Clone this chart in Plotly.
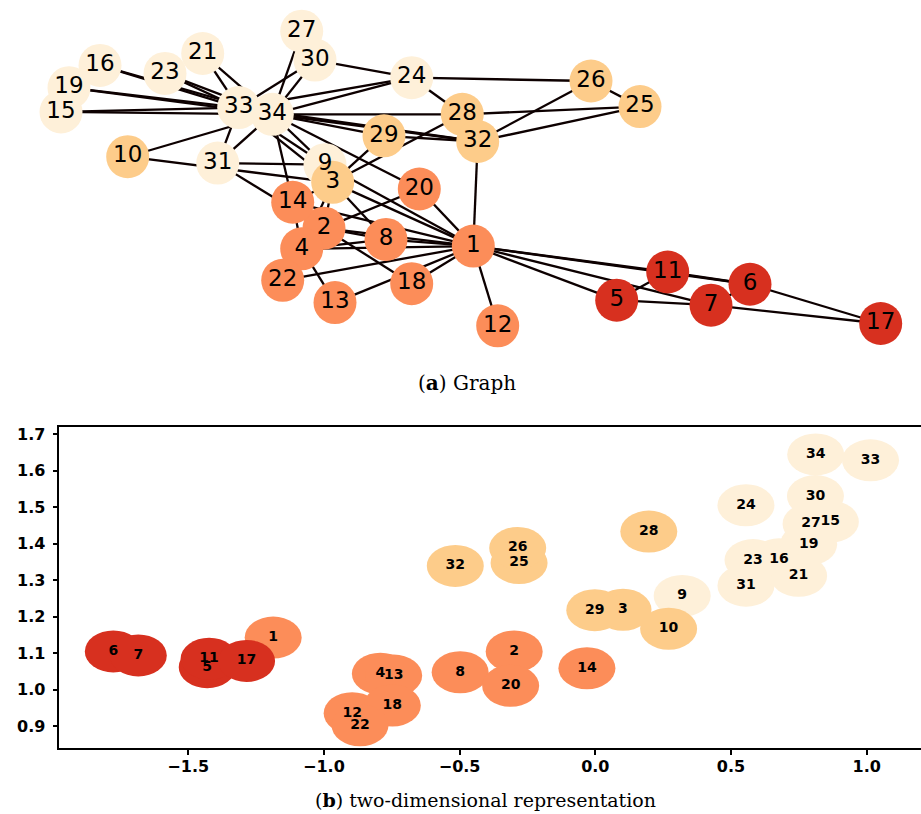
import plotly.graph_objects as go

# ---------------- data ----------------
nodes = list(range(1, 35))

# community of each node (0: cream, 1: light orange, 2: salmon, 3: red)
community = [2, 2, 1, 2, 3, 3, 3, 2, 0, 1,
             3, 2, 2, 2, 0, 0, 3, 2, 0, 2,
             0, 2, 0, 0, 1, 1, 0, 1, 1, 0,
             0, 1, 0, 0]
community_colors = ["#fef0d9", "#fdcc8a", "#fc8d59", "#d7301f"]

# graph layout positions (panel a)
graph_x = [473.3, 324.0, 332.7, 301.7, 616.7, 750.0, 711.0, 386.0, 325.0, 127.7,
           667.7, 497.7, 335.0, 292.7, 61.0, 100.0, 880.7, 411.7, 69.0, 419.3,
           202.7, 282.7, 165.0, 411.7, 640.0, 591.0, 301.7, 462.3, 384.0, 315.0,
           217.7, 477.7, 238.7, 272.3]
graph_y = [244.0, 226.0, 180.0, 246.7, 298.3, 282.3, 303.3, 237.3, 162.3, 154.3,
           270.0, 324.0, 300.7, 200.0, 109.3, 62.7, 321.7, 281.7, 85.0, 186.7,
           50.7, 278.3, 70.7, 75.0, 104.0, 78.3, 28.3, 111.7, 133.3, 57.3,
           160.7, 139.0, 105.0, 111.7]

# Zachary karate club edges
edges = [(1, 2), (1, 3), (1, 4), (1, 5), (1, 6), (1, 7), (1, 8), (1, 9), (1, 11), (1, 12),
         (1, 13), (1, 14), (1, 18), (1, 20), (1, 22), (1, 32),
         (2, 3), (2, 4), (2, 8), (2, 14), (2, 18), (2, 20), (2, 22), (2, 31),
         (3, 4), (3, 8), (3, 9), (3, 10), (3, 14), (3, 28), (3, 29), (3, 33),
         (4, 8), (4, 13), (4, 14), (5, 7), (5, 11), (6, 7), (6, 11), (6, 17), (7, 17),
         (9, 31), (9, 33), (9, 34), (10, 34), (14, 34), (15, 33), (15, 34),
         (16, 33), (16, 34), (19, 33), (19, 34), (20, 34), (21, 33), (21, 34),
         (23, 33), (23, 34), (24, 26), (24, 28), (24, 30), (24, 33), (24, 34),
         (25, 26), (25, 28), (25, 32), (26, 32), (27, 30), (27, 34), (28, 34),
         (29, 32), (29, 34), (30, 33), (30, 34), (31, 33), (31, 34),
         (32, 33), (32, 34), (33, 34)]

# two-dimensional representation (panel b)
emb_x = [-1.187, -0.299, 0.102, -0.792, -1.430, -1.776, -1.684, -0.498, 0.320, 0.270,
         -1.423, -0.896, -0.743, -0.031, 0.866, 0.677, -1.285, -0.748, 0.786, -0.312,
         0.749, -0.867, 0.581, 0.555, -0.281, -0.286, 0.795, 0.197, -0.002, 0.811,
         0.555, -0.516, 1.014, 0.812]
emb_y = [1.143, 1.105, 1.219, 1.044, 1.062, 1.105, 1.094, 1.048, 1.257, 1.167,
         1.085, 0.936, 1.039, 1.059, 1.460, 1.357, 1.079, 0.957, 1.398, 1.011,
         1.312, 0.903, 1.355, 1.505, 1.347, 1.388, 1.454, 1.433, 1.218, 1.530,
         1.285, 1.339, 1.628, 1.644]

x_ticks = [-1.5, -1.0, -0.5, 0.0, 0.5, 1.0]
y_ticks = [0.9, 1.0, 1.1, 1.2, 1.3, 1.4, 1.5, 1.6, 1.7]

# ---------------- figure ----------------
fig = go.Figure()

# edges
ex, ey = [], []
for a, b in edges:
    ex += [graph_x[a - 1], graph_x[b - 1], None]
    ey += [graph_y[a - 1], graph_y[b - 1], None]
fig.add_trace(go.Scatter(x=ex, y=ey, mode="lines",
                         line=dict(color="#0d0000", width=2.3),
                         hoverinfo="skip", xaxis="x2", yaxis="y2", showlegend=False))

# nodes, one trace per community
for c in range(4):
    idx = [i for i in range(34) if community[i] == c]
    fig.add_trace(go.Scatter(
        x=[graph_x[i] for i in idx], y=[graph_y[i] for i in idx],
        mode="markers",
        marker=dict(size=43, color=community_colors[c], line=dict(width=0), opacity=1),
        xaxis="x2", yaxis="y2", showlegend=False, hoverinfo="skip"))

# node labels
fig.add_trace(go.Scatter(
    x=graph_x, y=graph_y, mode="text", text=[str(n) for n in nodes],
    textposition="middle center",
    textfont=dict(family="DejaVu Sans", size=23, color="black"),
    xaxis="x2", yaxis="y2", showlegend=False, hoverinfo="skip"))

# panel b: ellipses as shapes anchored at data points
shapes = []
for i in range(34):
    shapes.append(dict(type="circle", xref="x", yref="y",
                       xsizemode="pixel", ysizemode="pixel",
                       xanchor=emb_x[i], yanchor=emb_y[i],
                       x0=-28.5, x1=28.5, y0=-21, y1=21,
                       fillcolor=community_colors[community[i]],
                       line=dict(width=0), layer="below"))

fig.add_trace(go.Scatter(
    x=emb_x, y=emb_y, mode="text", text=[str(n) for n in nodes],
    textposition="middle center",
    textfont=dict(family="DejaVu Sans", size=14, color="black", weight="bold"),
    xaxis="x", yaxis="y", showlegend=False, hoverinfo="skip"))

tickfont = dict(family="DejaVu Sans", size=16, color="black", weight="bold")

fig.update_layout(
    width=921, height=814,
    margin=dict(l=0, r=0, t=0, b=0),
    paper_bgcolor="white", plot_bgcolor="white",
    shapes=shapes,
    xaxis=dict(domain=[0.0644, 1.0], range=[-1.975, 1.2],
               tickvals=x_ticks, tickformat=".1f",
               showgrid=False, zeroline=False,
               showline=True, linecolor="black", linewidth=1.5, mirror=True,
               ticks="outside", ticklen=5, tickwidth=1.5, tickcolor="black",
               tickfont=tickfont, ticklabelstandoff=-2, anchor="y"),
    yaxis=dict(domain=[0.0815, 0.4767], range=[0.841, 1.718],
               tickvals=y_ticks, tickformat=".1f",
               showgrid=False, zeroline=False,
               showline=True, linecolor="black", linewidth=1.5, mirror=False,
               ticks="outside", ticklen=5, tickwidth=1.5, tickcolor="black",
               tickfont=tickfont, ticklabelstandoff=4, anchor="x"),
    xaxis2=dict(domain=[0, 1], range=[0, 921], visible=False, anchor="y2"),
    yaxis2=dict(domain=[1 - 365 / 814, 1.0], range=[365, 0], visible=False, anchor="x2"),
    annotations=[
        dict(text="(<b>a</b>) Graph", xref="paper", yref="paper",
             x=0.507, y=0.531, showarrow=False, xanchor="center", yanchor="middle",
             font=dict(family="DejaVu Serif", size=20, color="black")),
        dict(text="(<b>b</b>) two-dimensional representation", xref="paper", yref="paper",
             x=0.5275, y=0.0172, showarrow=False, xanchor="center", yanchor="middle",
             font=dict(family="DejaVu Serif", size=19, color="black")),
    ],
)

fig.write_html("out.html")
